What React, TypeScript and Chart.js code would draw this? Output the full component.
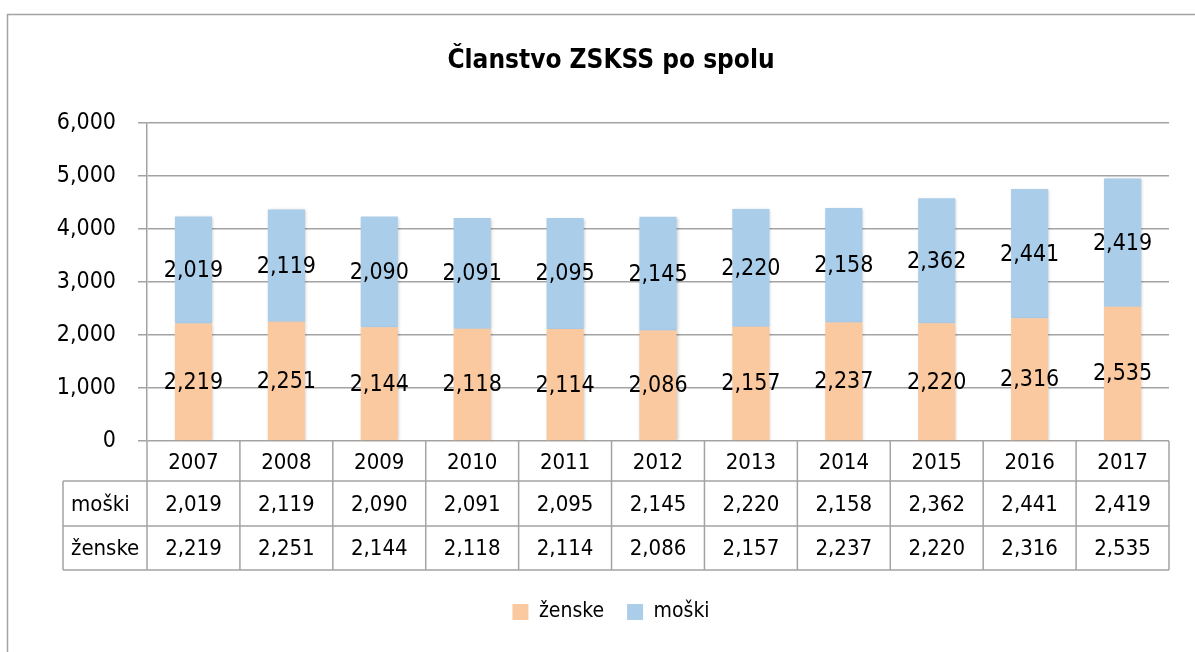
import React, { useEffect, useRef } from "react";
import { Chart, registerables } from "chart.js";

Chart.register(...registerables);

const TITLE = "Članstvo ZSKSS po spolu";
const YEARS = ["2007", "2008", "2009", "2010", "2011", "2012", "2013", "2014", "2015", "2016", "2017"];
const ZENSKE = [2219, 2251, 2144, 2118, 2114, 2086, 2157, 2237, 2220, 2316, 2535];
const MOSKI = [2019, 2119, 2090, 2091, 2095, 2145, 2220, 2158, 2362, 2441, 2419];
const SERIES_ZENSKE = "ženske";
const SERIES_MOSKI = "moški";
const Y_MIN = 0;
const Y_MAX = 6000;
const Y_STEP = 1000;

const FONT = '"DejaVu Sans Condensed", "Liberation Sans Narrow", "Arial Narrow", sans-serif';
const PEACH = "#FAC9A0";
const BLUE = "#AACDEA";
const GRID = "#A3A3A3";
const TEXT = "#000000";

const fmt = (v: number) => v.toLocaleString("en-US");

const framePlugin = {
  id: "frame",
  beforeDraw(chart: any) {
    const ctx = chart.ctx;
    ctx.save();
    ctx.fillStyle = "#ffffff";
    ctx.fillRect(0, 0, chart.width, chart.height);
    ctx.strokeStyle = GRID;
    ctx.lineWidth = 1.5;
    ctx.strokeRect(7.5, 14.5, chart.width + 20, chart.height + 20);
    ctx.restore();
  },
};

const barShadowPlugin = {
  id: "barShadow",
  beforeDatasetsDraw(chart: any) {
    const ctx = chart.ctx;
    ctx.save();
    ctx.shadowColor = "rgba(0,0,0,0.22)";
    ctx.shadowBlur = 3;
    ctx.shadowOffsetX = 1;
    ctx.shadowOffsetY = 1;
  },
  afterDatasetsDraw(chart: any) {
    const ctx = chart.ctx;
    ctx.restore();
    ctx.save();
    ctx.fillStyle = TEXT;
    ctx.font = `23px ${FONT}`;
    ctx.textAlign = "center";
    ctx.textBaseline = "middle";
    chart.data.datasets.forEach((ds: any, di: number) => {
      const meta = chart.getDatasetMeta(di);
      meta.data.forEach((bar: any, i: number) => {
        const cy = (bar.y + bar.base) / 2;
        ctx.fillText(fmt(ds.data[i]), bar.x, cy + 1);
      });
    });
    ctx.restore();
  },
};

const tablePlugin = {
  id: "dataTable",
  afterDraw(chart: any) {
    const ctx = chart.ctx;
    const x = chart.scales.x;
    const area = chart.chartArea;
    const n = YEARS.length;
    const colW = (x.right - x.left) / n;
    const top = area.bottom;
    const r1 = top + 40;
    const r2 = r1 + 45;
    const r3 = r2 + 44;
    const leftCol = 63;
    ctx.save();
    ctx.strokeStyle = GRID;
    ctx.lineWidth = 1.5;
    const line = (x1: number, y1: number, x2: number, y2: number) => {
      ctx.beginPath();
      ctx.moveTo(x1, y1);
      ctx.lineTo(x2, y2);
      ctx.stroke();
    };
    line(leftCol, r1, x.right, r1);
    line(leftCol, r2, x.right, r2);
    line(leftCol, r3, x.right, r3);
    line(leftCol, r1, leftCol, r3);
    for (let i = 0; i <= n; i++) {
      const xp = x.left + i * colW;
      line(xp, top, xp, r3);
    }
    ctx.fillStyle = TEXT;
    ctx.font = `22px ${FONT}`;
    ctx.textBaseline = "middle";
    ctx.textAlign = "center";
    YEARS.forEach((yr, i) => {
      const cx = x.getPixelForValue(i);
      ctx.fillText(yr, cx, (top + r1) / 2 + 2);
      ctx.fillText(fmt(MOSKI[i]), cx, (r1 + r2) / 2 + 2);
      ctx.fillText(fmt(ZENSKE[i]), cx, (r2 + r3) / 2 + 1);
    });
    ctx.textAlign = "left";
    ctx.fillText(SERIES_MOSKI, leftCol + 8, (r1 + r2) / 2 + 2);
    ctx.fillText(SERIES_ZENSKE, leftCol + 8, (r2 + r3) / 2 + 1);
    ctx.restore();
  },
};

export default function App() {
  const ref = useRef<HTMLCanvasElement | null>(null);
  useEffect(() => {
    if (!ref.current) return;
    Chart.defaults.color = TEXT;
    const chart = new Chart(ref.current, {
      type: "bar",
      data: {
        labels: YEARS,
        datasets: [
          { label: SERIES_ZENSKE, data: ZENSKE, backgroundColor: PEACH, borderWidth: 0 },
          { label: SERIES_MOSKI, data: MOSKI, backgroundColor: BLUE, borderWidth: 0 },
        ],
      },
      options: {
        responsive: false,
        animation: false,
        events: [],
        datasets: { bar: { barPercentage: 0.4, categoryPercentage: 1.0 } },
        layout: { padding: { left: 53, right: 26, top: 0, bottom: 19.5 } },
        plugins: {
          title: {
            display: true,
            text: TITLE,
            color: TEXT,
            font: { family: FONT, size: 26, weight: "bold" },
            padding: { top: 45.4, bottom: 46.4 },
          },
          legend: {
            position: "bottom",
            labels: {
              color: TEXT,
              font: { family: FONT, size: 21 },
              boxWidth: 16,
              boxHeight: 16,
              padding: 23,
            },
          },
          tooltip: { enabled: false },
        },
        scales: {
          x: {
            stacked: true,
            grid: { display: false },
            border: { display: false },
            ticks: { display: false },
            afterFit: (s: any) => {
              s.height = 137.5;
            },
          },
          y: {
            stacked: true,
            min: Y_MIN,
            max: Y_MAX,
            ticks: {
              stepSize: Y_STEP,
              padding: 22,
              color: TEXT,
              font: { family: FONT, size: 23 },
              callback: (v: any) => fmt(Number(v)),
            },
            grid: { color: GRID, lineWidth: 1.5, tickLength: 9, drawTicks: true },
            border: { display: true, color: GRID, width: 1.5 },
            afterFit: (s: any) => {
              s.width = 94;
            },
          },
        },
      },
      plugins: [framePlugin, barShadowPlugin, tablePlugin],
    } as any);
    return () => chart.destroy();
  }, []);
  return (
    <div style={{ position: "absolute", left: 0, top: 0, width: 1195, height: 652 }}>
      <canvas ref={ref} width={1195} height={652} />
    </div>
  );
}
